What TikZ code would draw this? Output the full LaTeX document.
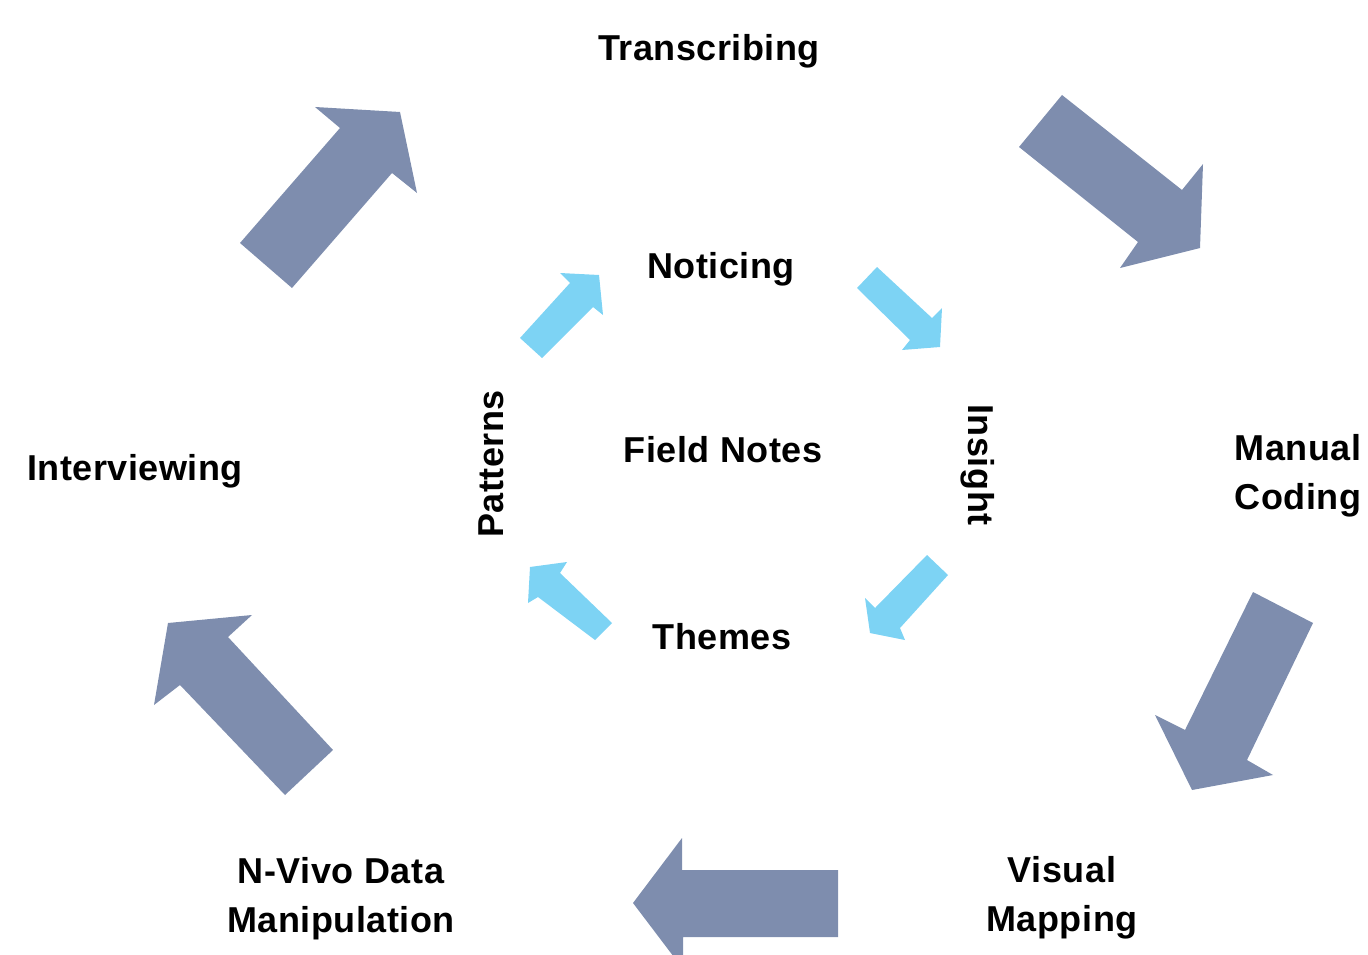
\documentclass[tikz,border=0pt]{standalone}
\usepackage{fontspec}
\setmainfont{Liberation Sans}[LetterSpace=1.5]
\begin{document}
\begin{tikzpicture}[x=1pt,y=-1pt,
  bigarrow/.style={fill=outerblue,draw=none},
  smallarrow/.style={fill=innerblue,draw=none},
  lbl/.style={inner sep=0pt,font=\fontsize{36}{49}\selectfont\bfseries,text=black},
  lbl2/.style={lbl,align=center}]
\definecolor{outerblue}{HTML}{7E8DAE}
\definecolor{innerblue}{HTML}{7DD3F4}
\useasboundingbox (0,0) rectangle (1368,955);
\clip (0,0) rectangle (1368,955);

% outer cycle arrows
\fill[bigarrow] (240,243) -- (292,288) -- (392,173) -- (417,193) -- (400,112) -- (315,107) -- (340,128) -- cycle;
\fill[bigarrow] (1062,95) -- (1019,147) -- (1138,242) -- (1120,268) -- (1200,248) -- (1203,164) -- (1182,190) -- cycle;
\fill[bigarrow] (1253,592) -- (1313,623) -- (1247,760) -- (1273,775) -- (1192,790) -- (1155,715) -- (1185,730) -- cycle;
\fill[bigarrow] (838,870) -- (838,937) -- (683,937) -- (683,969) -- (633,903) -- (682,838) -- (682,870) -- cycle;
\fill[bigarrow] (333,750) -- (285,795) -- (180,685) -- (154,705) -- (168,623) -- (252,615) -- (228,637) -- cycle;

% inner cycle arrows
\fill[smallarrow] (520,338) -- (542,358) -- (593,307) -- (603,315) -- (599,275) -- (560,273) -- (570,283) -- cycle;
\fill[smallarrow] (877,267) -- (857,288) -- (910,340) -- (902,350) -- (940,347) -- (942,308) -- (932,318) -- cycle;
\fill[smallarrow] (927,555) -- (948,575) -- (900,628) -- (905,640) -- (870,633) -- (865,598) -- (875,608) -- cycle;
\fill[smallarrow] (612,623) -- (595,640) -- (538,597) -- (528,603) -- (530,567) -- (567,562) -- (560,573) -- cycle;

% outer labels
\node[lbl,anchor=base] (transcribing) at (709,61) {Transcribing};
\node[lbl2] (coding) at (1298,476) {Manual\\Coding};
\node[lbl2] (mapping) at (1062,898) {Visual\\Mapping};
\node[lbl2] (nvivo) at (341,899) {N-Vivo Data\\Manipulation};
\node[lbl,anchor=base] (interviewing) at (135,480) {Interviewing};

% inner labels
\node[lbl,anchor=base] (noticing) at (721,278) {Noticing};
\node[lbl,anchor=base] (fieldnotes) at (723,462) {Field Notes};
\node[lbl,anchor=base] (themes) at (722,649) {Themes};
\node[lbl,rotate=90] (patterns) at (491,464) {Patterns};
\node[lbl,rotate=-90] (insight) at (978,465) {Insight};
\end{tikzpicture}
\end{document}
